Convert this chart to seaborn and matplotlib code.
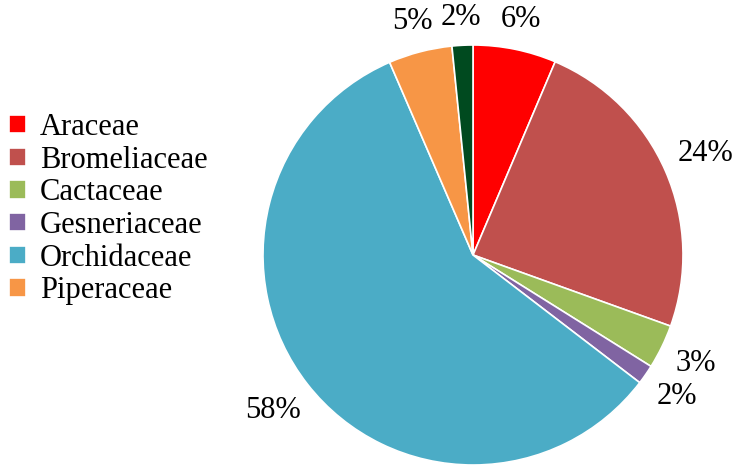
import numpy as np
import seaborn as sns
import matplotlib.pyplot as plt

families = ['Araceae', 'Bromeliaceae', 'Cactaceae', 'Gesneriaceae',
            'Orchidaceae', 'Piperaceae', '']
shares = [6.4, 24.1, 3.4, 1.5, 58.1, 4.9, 1.6]
colors = ['#FF0000', '#C0504D', '#9BBB59', '#8064A2', '#4BACC6', '#F79646', '#004A1F']

sns.set_theme(style='white')
plt.rcParams['font.family'] = ['Liberation Serif', 'DejaVu Serif']

fig = plt.figure(figsize=(7.5, 4.65), dpi=100)
ax = fig.add_axes([263 / 750, 0, 420 / 750, 420 / 465])

wedges, texts, autotexts = ax.pie(
    shares, colors=colors, startangle=90, counterclock=False,
    autopct='%.0f%%', pctdistance=1.15, radius=1,
    wedgeprops=dict(edgecolor='white', linewidth=1.2),
    textprops=dict(fontsize=22, color='black'),
)
ax.set_xlim(-1, 1)
ax.set_ylim(-1, 1)
ax.set_aspect('equal')

# push labels out to just clear the rim (excel "outside end")
fig.canvas.draw()
inv = ax.transData.inverted()
for w, t in zip(wedges, autotexts):
    ang = np.deg2rad((w.theta1 + w.theta2) / 2)
    bb = t.get_window_extent()
    p0 = inv.transform((bb.x0, bb.y0))
    p1 = inv.transform((bb.x1, bb.y1))
    hw, hh = (p1[0] - p0[0]) / 2, (p1[1] - p0[1]) / 2
    d = 1.06 + hw * abs(np.cos(ang)) + hh * abs(np.sin(ang))
    t.set_position((d * np.cos(ang), d * np.sin(ang)))

fig.legend(wedges[:6], families[:6], loc='center left',
           bbox_to_anchor=(0.0, 0.55), frameon=False, fontsize=22,
           labelcolor='black',
           handlelength=0.55, handleheight=0.55, handletextpad=0.45,
           labelspacing=0.12, borderaxespad=0.0, borderpad=0.3)

fig.savefig('out.png', dpi=100)
